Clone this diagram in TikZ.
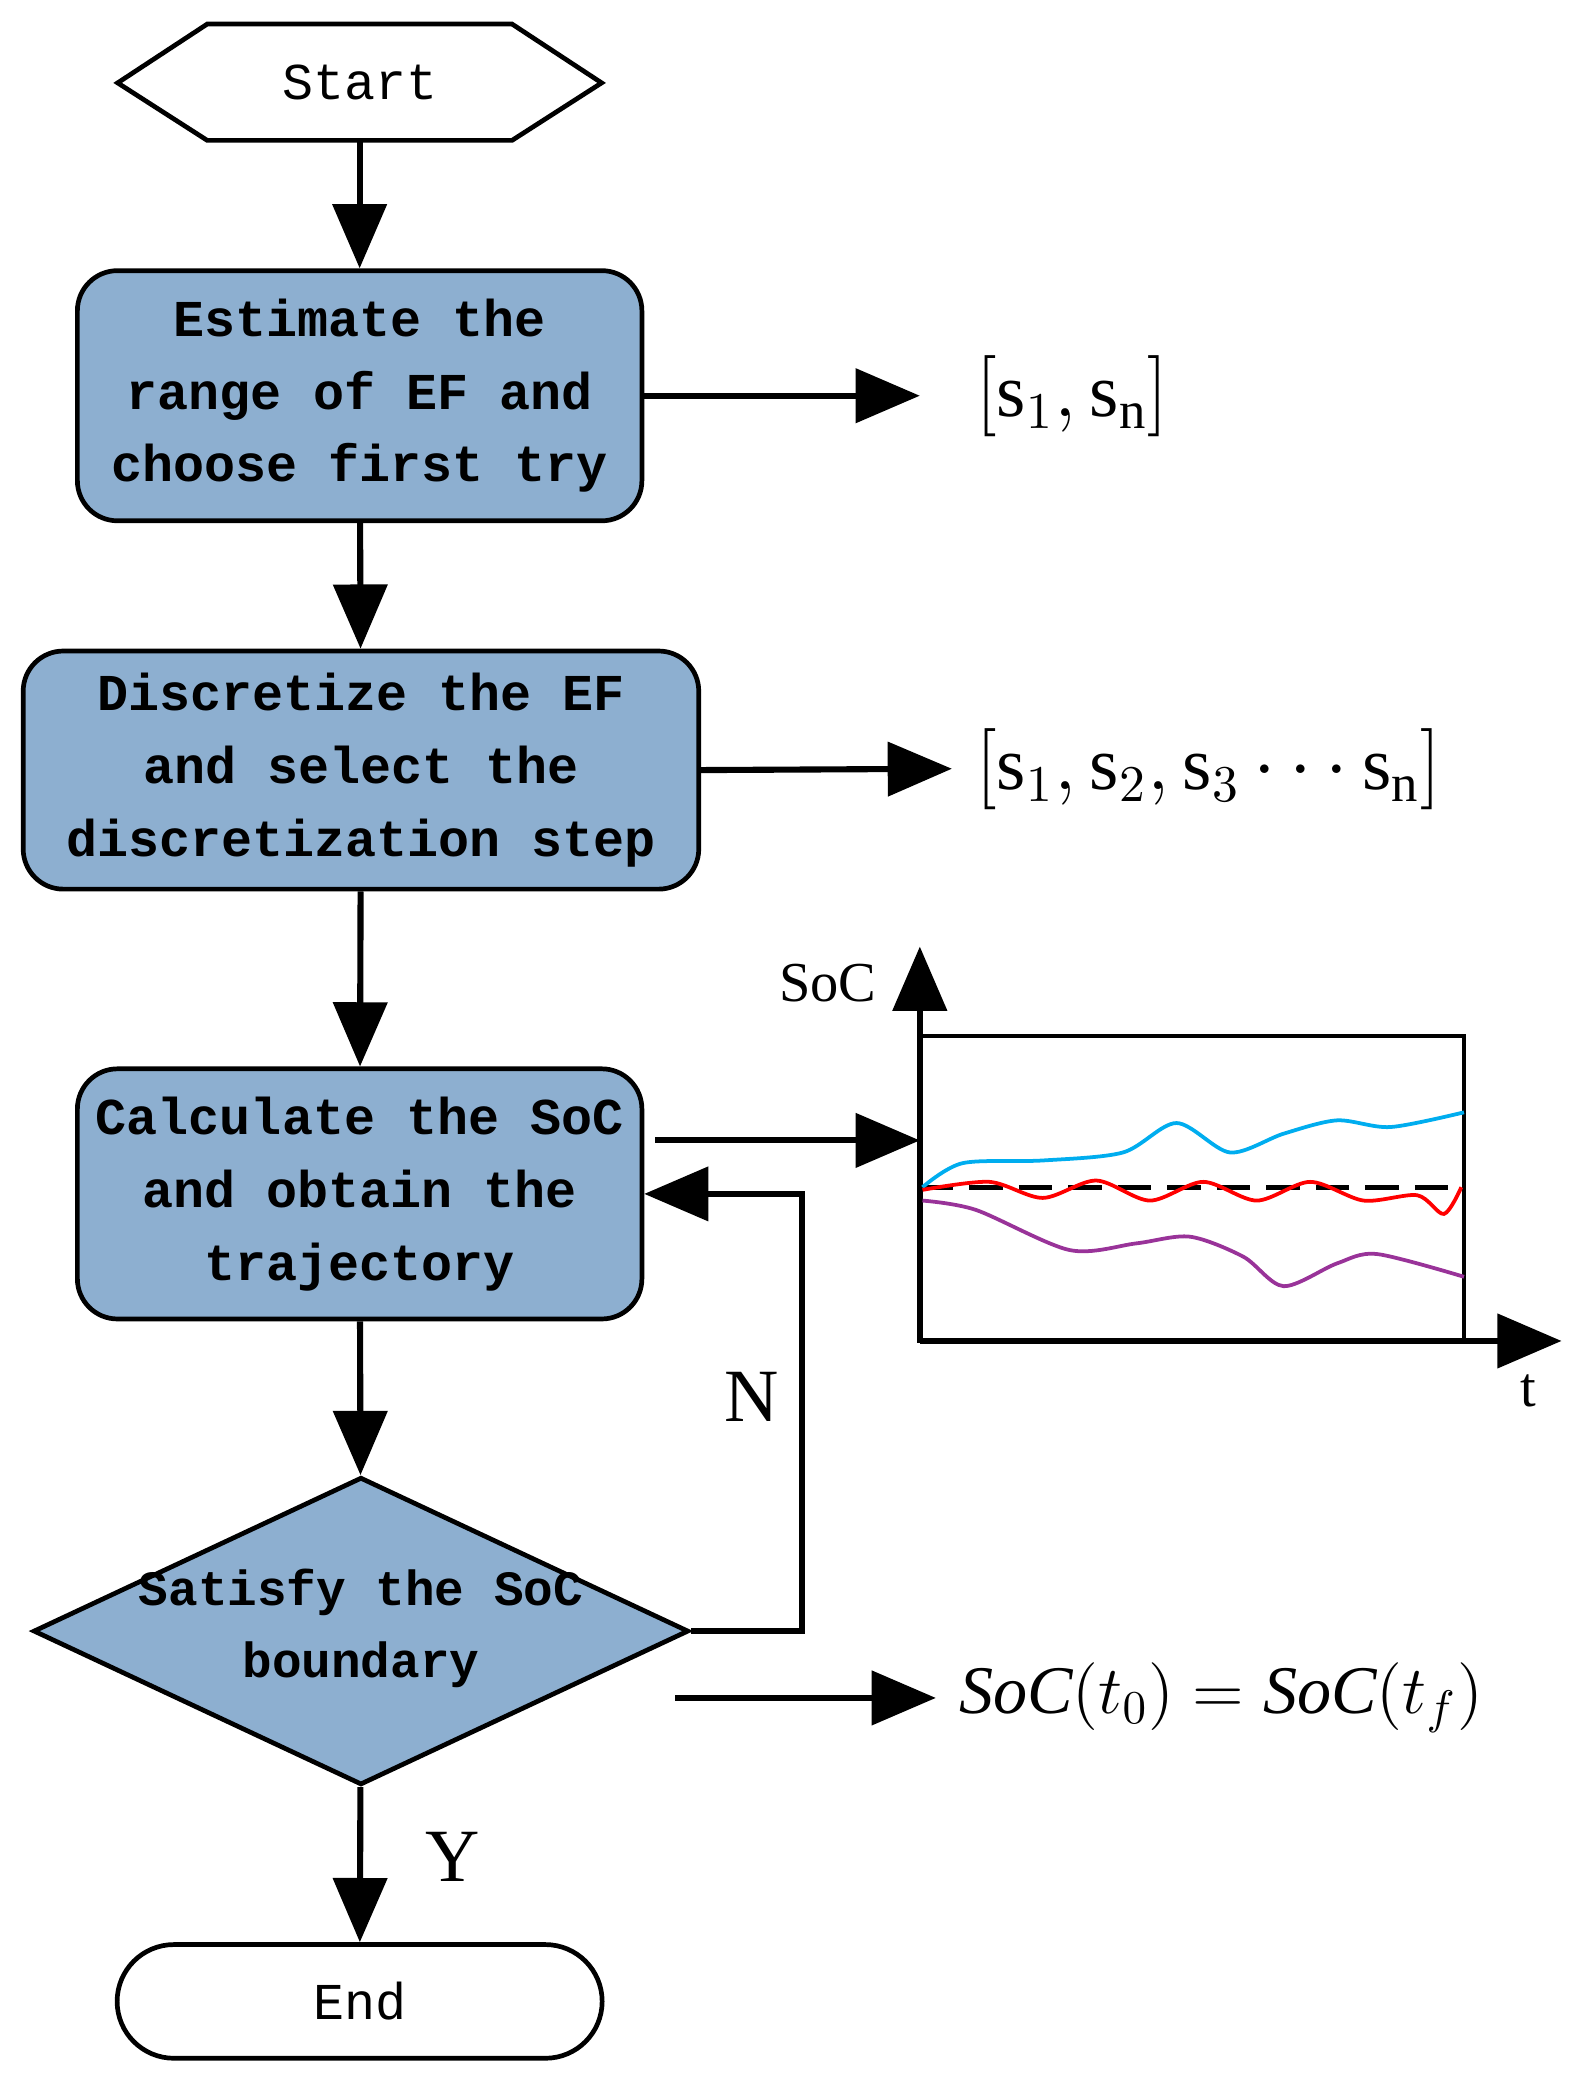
\documentclass[tikz,border=0pt]{standalone}
\usepackage{fontspec}
\setmainfont{Liberation Serif}
\newfontfamily\boxfont{Liberation Mono}
\usetikzlibrary{arrows.meta,shapes.geometric,shapes.misc}
\definecolor{boxblue}{RGB}{141,175,208}
\tikzset{
 every node/.style={font=\boxfont\fontsize{11}{15.5}\selectfont\bfseries},
 box/.style={draw,line width=1pt,rounded corners=0.3cm,fill=boxblue,align=center,inner sep=0pt},
 arr/.style={line width=1.3pt,-{Triangle[length=0.48cm,width=0.4cm]}},
 lab/.style={font=\fontsize{16}{20}\selectfont},
}
\begin{document}
\begin{tikzpicture}[x=0.01cm,y=-0.01cm]
\useasboundingbox (0,0) rectangle (1180,1570);
\draw[line width=1pt] (88,62) -- (155,18) -- (383,18) -- (450,62) -- (383,105) -- (155,105) -- cycle;
\node[inner sep=0pt,minimum width=3.62cm,minimum height=0.87cm] (start) at (269,62) {\mdseries Start};
\node[box,minimum width=4.22cm,minimum height=1.87cm] (b1) at (269,296) {Estimate the\\range of EF and\\choose first try};
\node[box,minimum width=5.05cm,minimum height=1.78cm] (b2) at (270,576) {Discretize the EF\\and select the\\discretization step};
\node[box,minimum width=4.22cm,minimum height=1.87cm] (b3) at (269,893) {Calculate the SoC\\and obtain the\\trajectory};
\node[diamond,draw,line width=1pt,fill=boxblue,minimum width=4.9cm,minimum height=2.3cm,inner sep=0pt,aspect=2.1,align=center] (d) at (270,1220) {};
\node[align=center,font=\boxfont\fontsize{10.5}{15.5}\selectfont\bfseries] at (270,1218) {Satisfy the SoC\\boundary};
\node[draw,line width=1pt,rounded rectangle,minimum width=3.86cm,minimum height=0.85cm] (end) at (269,1497) {\mdseries End};

\draw[arr] (start) -- (b1);
\draw[arr] (b1) -- (b2);
\draw[arr] (b2) -- (b3);
\draw[arr] (b3) -- (d);
\draw[arr] (d) -- node[right=0.35cm,lab,pos=0.45]{Y} (end);

\coordinate (o1) at (688,296);
\draw[arr] (b1.east) -- (o1);
\node[lab,anchor=west] (l1) at (718,296) {$[\mathrm{s}_1,\mathrm{s}_\mathrm{n}]$};
\coordinate (o2) at (712,575);
\draw[arr] (b2.east) -- (o2);
\node[lab,anchor=west] (l2) at (718,575) {$[\mathrm{s}_1,\mathrm{s}_2,\mathrm{s}_3\cdots\mathrm{s}_\mathrm{n}]$};
\coordinate (s3) at (490,853);
\coordinate (o3) at (688,853);
\draw[arr] (s3) -- (o3);
\coordinate (f1) at (600,1220);
\coordinate (f2) at (600,893);
\draw[arr] (d.east) -- (f1) -- (f2) -- (b3.east);
\node[lab] at (562,1045) {N};
\coordinate (s4) at (505,1270);
\coordinate (o4) at (700,1270);
\draw[arr] (s4) -- (o4);
\node[font=\fontsize{14.5}{18}\selectfont,anchor=west] at (705,1270) {$\mathit{SoC}(t_0)=\mathit{SoC}(t_f)$};

% chart
\draw[line width=1pt] (688,775) rectangle (1095,1003);
\draw[arr] (688,1003) -- (688,708);
\draw[arr] (688,1003) -- (1168,1003);
\node[font=\fontsize{12}{15}\selectfont,anchor=east] at (668,735) {SoC};
\node[font=\fontsize{12}{15}\selectfont] at (1143,1040) {t};
\draw[line width=1pt,dash pattern=on 0.25cm off 0.12cm] (688,888) -- (1095,888);
\draw[cyan,line width=0.8pt] plot[smooth] coordinates {(690,888) (720,870) (780,868) (840,862) (880,840) (920,862) (960,848) (1000,838) (1040,843) (1095,832)};
\draw[red,line width=0.8pt] plot[smooth] coordinates {(690,890) (740,884) (780,896) (820,883) (860,898) (900,884) (940,898) (980,884) (1020,898) (1060,894) (1080,908) (1093,888)};
\draw[violet!80,line width=0.8pt] plot[smooth] coordinates {(690,898) (730,905) (800,935) (850,930) (890,925) (930,940) (960,962) (1000,945) (1030,938) (1095,955)};
\end{tikzpicture}
\end{document}
